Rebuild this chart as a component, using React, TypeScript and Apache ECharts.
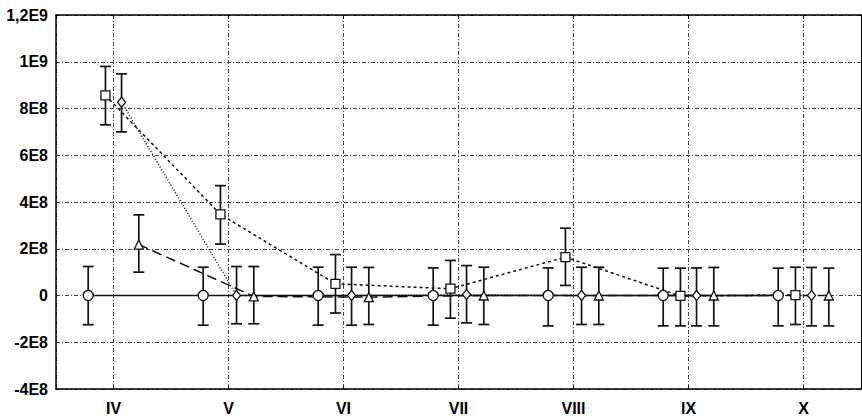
import React, { useEffect, useRef } from "react";
import * as echarts from "echarts";

const months = ["IV", "V", "VI", "VII", "VIII", "IX", "X"];
const monthX = [4, 5, 6, 7, 8, 9, 10];
const yTickLabels = ["-4E8", "-2E8", "0", "2E8", "4E8", "6E8", "8E8", "1E9", "1,2E9"];

const circleMean = [0, 0, 0, 0, 0, 0, 0];
const circleHi = [1.24e8, 1.21e8, 1.21e8, 1.18e8, 1.18e8, 1.17e8, 1.17e8];
const circleLo = [-1.25e8, -1.27e8, -1.27e8, -1.27e8, -1.3e8, -1.3e8, -1.3e8];

const squareMean = [8.56e8, 3.47e8, 0.5e8, 0.29e8, 1.64e8, -0.02e8, 0.02e8];
const squareHi = [9.8e8, 4.7e8, 1.75e8, 1.5e8, 2.88e8, 1.17e8, 1.21e8];
const squareLo = [7.3e8, 2.2e8, -0.75e8, -0.97e8, 0.43e8, -1.3e8, -1.24e8];

const diamondMean = [8.27e8, 0, 0, 0.04e8, 0, 0, 0];
const diamondHi = [9.48e8, 1.24e8, 1.21e8, 1.28e8, 1.21e8, 1.18e8, 1.2e8];
const diamondLo = [7.0e8, -1.21e8, -1.27e8, -1.17e8, -1.24e8, -1.3e8, -1.3e8];

const triangleMean = [2.18e8, -0.04e8, -0.07e8, 0, 0, 0, 0];
const triangleHi = [3.45e8, 1.24e8, 1.2e8, 1.21e8, 1.21e8, 1.2e8, 1.17e8];
const triangleLo = [1.0e8, -1.21e8, -1.24e8, -1.24e8, -1.24e8, -1.3e8, -1.3e8];

const OFFSETS = [-0.22, -0.07, 0.07, 0.22];

const FONT = "Liberation Sans, Arial, sans-serif";

export default function App() {
  const ref = useRef<HTMLDivElement>(null);
  useEffect(() => {
    if (!ref.current) return;
    const chart = echarts.init(ref.current, null, { renderer: "svg" });

    const groups = [
      { mean: circleMean, hi: circleHi, lo: circleLo, symbol: "circle", size: 10, dash: "solid" as any },
      { mean: squareMean, hi: squareHi, lo: squareLo, symbol: "rect", size: 9, dash: [3, 3] },
      { mean: diamondMean, hi: diamondHi, lo: diamondLo, symbol: "diamond", size: [8, 10], dash: [1, 2] },
      { mean: triangleMean, hi: triangleHi, lo: triangleLo, symbol: "triangle", size: 9, dash: [10, 5] },
    ];

    const errSeries: any[] = groups.map((g, gi) => ({
      type: "custom",
      z: 2,
      silent: true,
      data: monthX.map((m, i) => [m + OFFSETS[gi], g.lo[i], g.hi[i]]),
      encode: { x: 0, y: [1, 2] },
      renderItem: (params: any, api: any) => {
        const x = api.value(0);
        const top = api.coord([x, api.value(2)]);
        const bot = api.coord([x, api.value(1)]);
        const hw = 5.5;
        const style = { stroke: "#111", lineWidth: 1.7 };
        return {
          type: "group",
          children: [
            { type: "line", shape: { x1: top[0], y1: top[1], x2: bot[0], y2: bot[1] }, style },
            { type: "line", shape: { x1: top[0] - hw, y1: top[1], x2: top[0] + hw, y2: top[1] }, style },
            { type: "line", shape: { x1: bot[0] - hw, y1: bot[1], x2: bot[0] + hw, y2: bot[1] }, style },
          ],
        };
      },
    }));

    const lineSeries: any[] = groups.map((g, gi) => ({
      type: "line",
      z: 3,
      data: monthX.map((m, i) => [m + OFFSETS[gi], g.mean[i]]),
      symbol: g.symbol,
      symbolSize: g.size,
      showSymbol: true,
      lineStyle: { color: "#111", width: gi === 0 ? 1.6 : 1.5, type: g.dash },
      itemStyle: { color: "#fff", borderColor: "#111", borderWidth: 1.3 },
    }));

    const splitStyle = { show: true, lineStyle: { color: "#444", width: 1, type: [4, 2, 1, 2] } };

    chart.setOption({
      animation: false,
      grid: { left: 56, right: 1, top: 15, bottom: 30 },
      xAxis: [
        {
          type: "value",
          min: 3.5,
          max: 10.5,
          splitNumber: 7,
          minInterval: 1,
          maxInterval: 1,
          axisLine: { show: true, onZero: false, lineStyle: { color: "#000", width: 1.5 } },
          axisTick: { show: true, inside: true, length: 3, lineStyle: { color: "#000" } },
          splitLine: splitStyle,
          axisLabel: {
            color: "#000",
            fontFamily: FONT,
            fontWeight: "bold",
            fontSize: 16,
            margin: 11,
            showMinLabel: false,
            showMaxLabel: false,
            formatter: (v: number) => {
              const idx = monthX.indexOf(Math.round(v));
              return Math.abs(v - Math.round(v)) < 1e-6 && idx >= 0 ? months[idx] : "";
            },
          },
        },
        {
          type: "value",
          position: "top",
          min: 3.5,
          max: 10.5,
          splitNumber: 7,
          minInterval: 1,
          maxInterval: 1,
          axisLine: { show: true, onZero: false, lineStyle: { color: "#000", width: 1.5 } },
          axisTick: { show: true, inside: true, length: 4, lineStyle: { color: "#000" } },
          axisLabel: { show: false },
          splitLine: { show: false },
        },
      ],
      yAxis: [
        {
          type: "value",
          min: -4e8,
          max: 1.2e9,
          interval: 2e8,
          axisLine: { show: true, onZero: false, lineStyle: { color: "#000", width: 1.5 } },
          axisTick: { show: false },
          splitLine: splitStyle,
          axisLabel: {
            color: "#000",
            fontFamily: FONT,
            fontWeight: "bold",
            fontSize: 16,
            margin: 8,
            formatter: (v: number) => {
              const idx = Math.round((v + 4e8) / 2e8);
              return yTickLabels[idx] ?? "";
            },
          },
        },
        {
          type: "value",
          position: "right",
          min: -4e8,
          max: 1.2e9,
          interval: 2e8,
          axisLine: { show: true, onZero: false, lineStyle: { color: "#000", width: 1 } },
          axisTick: { show: false },
          axisLabel: { show: false },
          splitLine: { show: false },
        },
      ],
      series: [...errSeries, ...lineSeries],
    });
    return () => chart.dispose();
  }, []);
  return <div ref={ref} style={{ width: 862, height: 419, position: "absolute", left: 0, top: 0 }} />;
}
